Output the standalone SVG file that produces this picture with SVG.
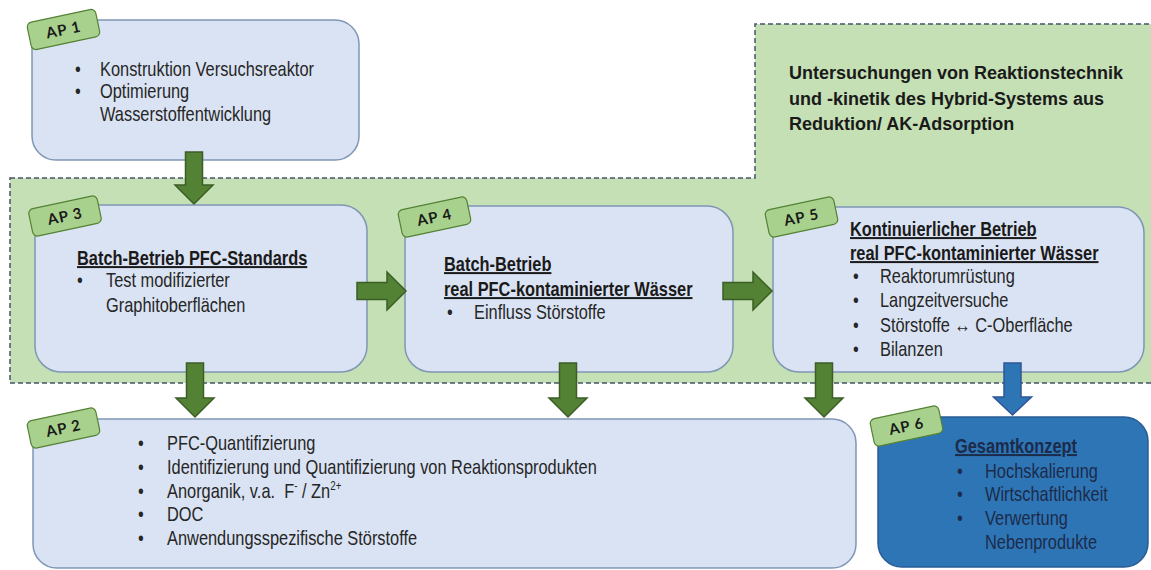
<svg xmlns="http://www.w3.org/2000/svg" width="1151" height="570" viewBox="0 0 1151 570">
<defs>
<style>
.region{fill:#C5E0B4;stroke:#44546A;stroke-width:1.5;stroke-dasharray:5 3}
.box{fill:#DAE3F3;stroke:#8096B5;stroke-width:1.5}
.box6{fill:#2E75B6;stroke:#2A5C95;stroke-width:1.5}
.arr{fill:#548235;stroke:#3B5E27;stroke-width:1.5;stroke-linejoin:miter}
.arrb{fill:#2E75B6;stroke:#2F5597;stroke-width:1.5}
.tag{fill:#A9D18E;stroke:#548235;stroke-width:1.2}
.tagt{font-family:Lato,"Open Sans",sans-serif;font-weight:bold;font-size:15px;fill:#1a1a1a;text-anchor:middle;letter-spacing:1px}
.t{font-family:"Liberation Sans",Arial,sans-serif;font-size:20px;fill:#262626}
.tb{font-family:"Liberation Sans",Arial,sans-serif;font-size:20px;font-weight:bold;fill:#1a1a1a;text-decoration:underline}
.h{font-family:"Liberation Sans",Arial,sans-serif;font-size:18px;font-weight:bold;fill:#1a1a1a}
.n{fill:#1C2B4A}
</style>
</defs>
<g id="region">
<polygon class="region" points="10,178 755,178 755,24 1160,24 1160,383 10,383"/>
<text class="h" x="789" y="79">Untersuchungen von Reaktionstechnik</text>
<text class="h" x="789" y="104.5">und -kinetik des Hybrid-Systems aus</text>
<text class="h" x="789" y="130">Reduktion/ AK-Adsorption</text>
</g>
<g id="ap1">
<rect class="box" x="32" y="20" width="327" height="140" rx="24"/>
<g transform="translate(75,0) scale(0.82,1)">
<text class="t" x="0" y="76">•</text><text class="t" x="30.5" y="76">Konstruktion Versuchsreaktor</text>
<text class="t" x="0" y="98.5">•</text><text class="t" x="30.5" y="98.5">Optimierung</text>
<text class="t" x="30.5" y="121">Wasserstoffentwicklung</text>
</g>
</g>
<g id="ap3">
<rect class="box" x="35" y="205" width="332" height="167" rx="26"/>
<g transform="translate(77,0) scale(0.82,1)">
<text class="tb" x="0" y="265">Batch-Betrieb PFC-Standards</text>
<text class="t" x="0" y="287">•</text><text class="t" x="35.4" y="287">Test modifizierter</text>
<text class="t" x="35.4" y="312">Graphitoberflächen</text>
</g>
</g>
<g id="ap4">
<rect class="box" x="405" y="206" width="328" height="166" rx="26"/>
<g transform="translate(444,0) scale(0.82,1)">
<text class="tb" x="0" y="271">Batch-Betrieb</text>
<text class="tb" x="0" y="296">real PFC-kontaminierter Wässer</text>
<text class="t" x="3.7" y="319">•</text><text class="t" x="36.6" y="319">Einfluss Störstoffe</text>
</g>
</g>
<g id="ap5">
<rect class="box" x="773" y="207" width="371" height="165" rx="26"/>
<g transform="translate(850,0) scale(0.82,1)">
<text class="tb" x="0" y="236">Kontinuierlicher Betrieb</text>
<text class="tb" x="0" y="260">real PFC-kontaminierter Wässer</text>
<text class="t" x="3.7" y="283.5">•</text><text class="t" x="36.6" y="283.5">Reaktorumrüstung</text>
<text class="t" x="3.7" y="307.5">•</text><text class="t" x="36.6" y="307.5">Langzeitversuche</text>
<text class="t" x="3.7" y="332">•</text><text class="t" x="36.6" y="332">Störstoffe ↔ C-Oberfläche</text>
<text class="t" x="3.7" y="356.5">•</text><text class="t" x="36.6" y="356.5">Bilanzen</text>
</g>
</g>
<g id="ap2">
<rect class="box" x="33" y="419" width="823" height="149" rx="24"/>
<g transform="translate(138,0) scale(0.82,1)">
<text class="t" x="0" y="450">•</text><text class="t" x="35.4" y="450">PFC-Quantifizierung</text>
<text class="t" x="0" y="474">•</text><text class="t" x="35.4" y="474">Identifizierung und Quantifizierung von Reaktionsprodukten</text>
<text class="t" x="0" y="498">•</text><text class="t" x="35.4" y="498" xml:space="preserve">Anorganik, v.a.  F<tspan font-size="12" dy="-8">-</tspan><tspan dy="8"> / Zn</tspan><tspan font-size="12" dy="-8">2+</tspan></text>
<text class="t" x="0" y="521.5">•</text><text class="t" x="35.4" y="521.5">DOC</text>
<text class="t" x="0" y="545">•</text><text class="t" x="35.4" y="545">Anwendungsspezifische Störstoffe</text>
</g>
</g>
<g id="ap6">
<rect class="box6" x="878" y="417" width="270" height="150" rx="24"/>
<g transform="translate(955,0) scale(0.82,1)">
<text class="tb n" x="0" y="453">Gesamtkonzept</text>
<text class="t n" x="2.4" y="478">•</text><text class="t n" x="36.6" y="478">Hochskalierung</text>
<text class="t n" x="2.4" y="501">•</text><text class="t n" x="36.6" y="501">Wirtschaftlichkeit</text>
<text class="t n" x="2.4" y="525.5">•</text><text class="t n" x="36.6" y="525.5">Verwertung</text>
<text class="t n" x="36.6" y="549">Nebenprodukte</text>
</g>
</g>
<g id="connectors">
<polygon class="arr" points="185.5,152 202.5,152 202.5,185 213,185 194,204 175,185 185.5,185"/>
<polygon class="arr" points="186.5,363 203.5,363 203.5,398 214,398 195,417 176,398 186.5,398"/>
<polygon class="arr" points="559.5,363 576.5,363 576.5,398 587,398 568,417 549,398 559.5,398"/>
<polygon class="arr" points="815.5,363 832.5,363 832.5,398 843,398 824,417 805,398 815.5,398"/>
<polygon class="arrb" points="1004,363 1021,363 1021,397 1031.5,397 1012.5,415 993.5,397 1004,397"/>
<polygon class="arr" points="357,282.5 387,282.5 387,272 406,291 387,310 387,299.5 357,299.5"/>
<polygon class="arr" points="723,282.5 753,282.5 753,272 772,291 753,310 753,299.5 723,299.5"/>
</g>
<g id="tags">
<g id="tag1" transform="translate(63.5,29.5) rotate(-12)"><rect class="tag" x="-35" y="-14" width="70" height="28" rx="5"/><text class="tagt" x="0" y="5.5">AP 1</text></g>
<g id="tag3" transform="translate(65,216) rotate(-12)"><rect class="tag" x="-35" y="-14" width="70" height="28" rx="5"/><text class="tagt" x="0" y="5.5">AP 3</text></g>
<g id="tag4" transform="translate(434.5,217) rotate(-12)"><rect class="tag" x="-35" y="-14" width="70" height="28" rx="5"/><text class="tagt" x="0" y="5.5">AP 4</text></g>
<g id="tag5" transform="translate(801.5,217) rotate(-12)"><rect class="tag" x="-35" y="-14" width="70" height="28" rx="5"/><text class="tagt" x="0" y="5.5">AP 5</text></g>
<g id="tag2" transform="translate(63.5,428) rotate(-12)"><rect class="tag" x="-35" y="-14" width="70" height="28" rx="5"/><text class="tagt" x="0" y="5.5">AP 2</text></g>
<g id="tag6" transform="translate(906.5,426) rotate(-12)"><rect class="tag" x="-35" y="-14" width="70" height="28" rx="5"/><text class="tagt" x="0" y="5.5">AP 6</text></g>
</g>
</svg>
